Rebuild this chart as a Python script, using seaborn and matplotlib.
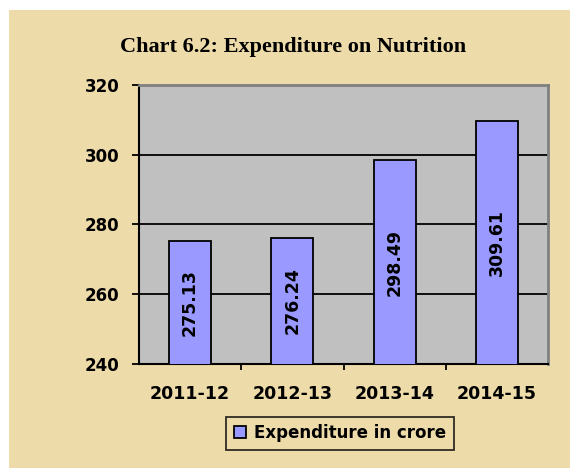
import matplotlib
matplotlib.use("Agg")
import matplotlib.pyplot as plt
import seaborn as sns
import pandas as pd
from matplotlib.patches import Rectangle, Patch
from matplotlib.ticker import FixedLocator

years = ["2011-12", "2012-13", "2013-14", "2014-15"]
spend = [275.13, 276.24, 298.49, 309.61]
yticks = [240, 260, 280, 300, 320]

df = pd.DataFrame({"year": years, "spend": spend})

sns.set_style("white")
plt.rcParams["font.family"] = ["DejaVu Sans"]
plt.rcParams["text.color"] = "black"
plt.rcParams["xtick.color"] = "black"
plt.rcParams["ytick.color"] = "black"

paper = "#EEDBAA"
fig = plt.figure(figsize=(5.7, 4.68), dpi=100, facecolor="white")
# parchment panel (white strip left and top like the original)
fig.patches.append(Rectangle((9 / 570, 0), 1, 1 - 10 / 468, transform=fig.transFigure,
                             facecolor=paper, edgecolor="none", zorder=-10))

ax = fig.add_axes([139 / 570, 1 - 364 / 468, (548 - 139) / 570, (364 - 85) / 468])
ax.set_facecolor("#C0C0C0")

sns.barplot(data=df, x="year", y="spend", color="#9999FF", saturation=1,
            edgecolor="black", linewidth=1.3, width=0.41, ax=ax, zorder=3)

ax.set_ylim(240, 320)
ax.set_yticks(yticks)
ax.set_xlim(-0.5, 3.5)
for v in yticks[1:-1]:
    ax.axhline(v, color="black", lw=1.3, zorder=1)

for i, v in enumerate(spend):
    ax.text(i, (240 + v) / 2, f"{v:.2f}", rotation=90, ha="center", va="center",
            fontsize=12.5, fontweight="bold", color="black", zorder=5)

for s in ["top", "right"]:
    ax.spines[s].set_color("#808080")
    ax.spines[s].set_linewidth(2)
for s in ["left", "bottom"]:
    ax.spines[s].set_color("black")
    ax.spines[s].set_linewidth(1.5)

ax.set_xlabel("")
ax.set_ylabel("")
ax.tick_params(axis="y", direction="out", length=5, width=1.3, pad=9, left=True,
               labelsize=12, labelcolor="black")
ax.tick_params(axis="x", which="major", length=0, pad=15, labelsize=12.5,
               labelcolor="black")
ax.xaxis.set_minor_locator(FixedLocator([0.5, 1.5, 2.5]))
ax.tick_params(axis="x", which="minor", direction="out", length=4, width=1.3, bottom=True)
for lab in ax.get_xticklabels() + ax.get_yticklabels():
    lab.set_fontweight("bold")

fig.text(293 / 570, 1 - 47 / 468, "Chart 6.2: Expenditure on Nutrition",
         ha="center", va="center", fontsize=16, fontweight="bold",
         family="Liberation Serif", color="black")

handle = Patch(facecolor="#9999FF", edgecolor="black", linewidth=1.3)
leg = fig.legend([handle], ["Expenditure in crore"], loc="center",
                 bbox_to_anchor=(340 / 570, 1 - 433 / 468), frameon=True,
                 fancybox=False, handlelength=0.7, handleheight=0.7,
                 handletextpad=0.5, borderpad=0.45,
                 prop={"weight": "bold", "size": 12})
leg.get_frame().set_edgecolor("black")
leg.get_frame().set_linewidth(1.3)
leg.get_frame().set_facecolor("none")
for t in leg.get_texts():
    t.set_color("black")

fig.savefig("out.png", dpi=100, facecolor=fig.get_facecolor())
